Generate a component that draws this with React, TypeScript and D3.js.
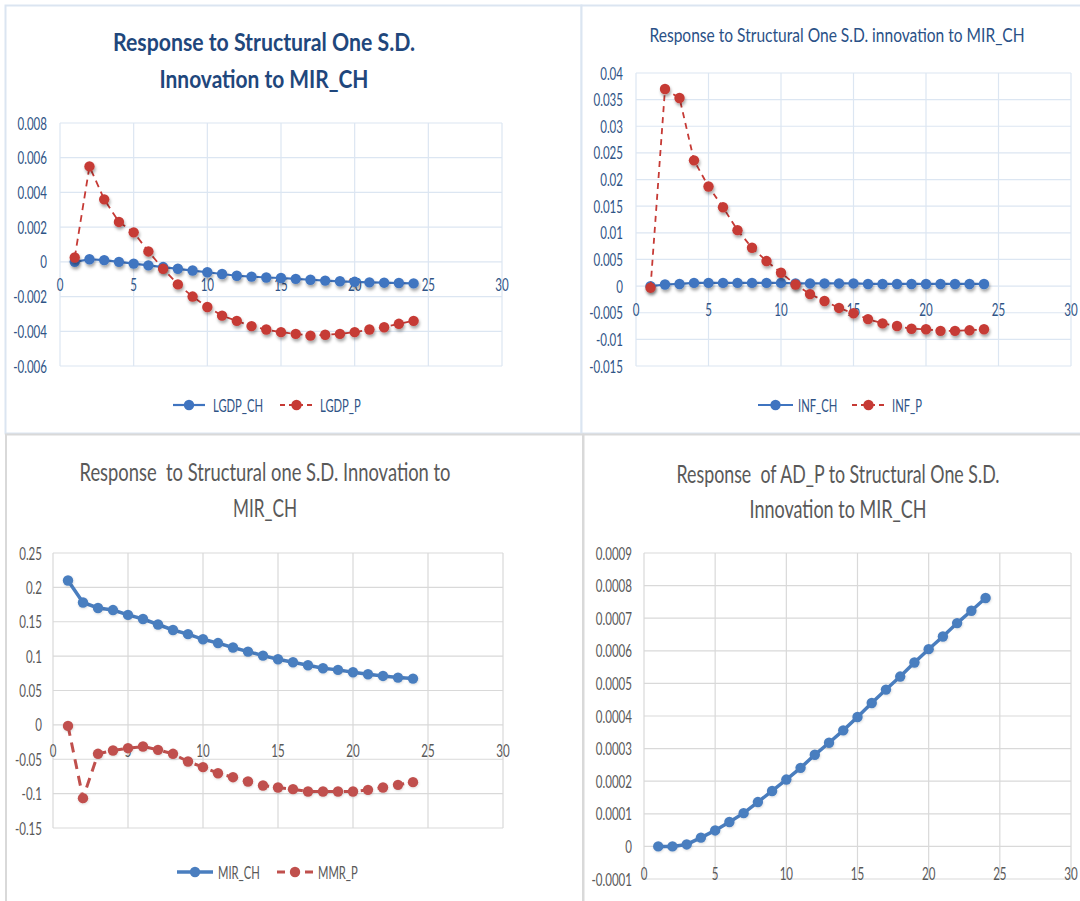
import { useLayoutEffect, useRef, useState } from 'react';
import * as d3 from 'd3';

// periods 1..24 shared by all four charts
const periods = [1, 2, 3, 4, 5, 6, 7, 8, 9, 10, 11, 12, 13, 14, 15, 16, 17, 18, 19, 20, 21, 22, 23, 24];
const xTicks = [0, 5, 10, 15, 20, 25, 30];

// top-left: output
const lgdpCH = [0.0, 0.00015, 0.0001, 0.0, -0.0001, -0.0002, -0.0003, -0.0004, -0.0005, -0.0006, -0.0007, -0.0008,
  -0.00085, -0.0009, -0.00093, -0.00098, -0.00103, -0.00108, -0.00112, -0.00115, -0.00118, -0.0012, -0.00122, -0.00124];
const lgdpP = [0.00025, 0.0055, 0.0036, 0.0023, 0.0017, 0.0006, -0.0004, -0.0013, -0.002, -0.0026, -0.0031, -0.0034,
  -0.0037, -0.0039, -0.00405, -0.00415, -0.00425, -0.0042, -0.00415, -0.00405, -0.0039, -0.00377, -0.00357, -0.0034];
const lgdpTicks = [-0.006, -0.004, -0.002, 0, 0.002, 0.004, 0.006, 0.008];

// top-right: inflation
const infCH = [0.0, 0.0003, 0.0004, 0.0006, 0.0006, 0.0006, 0.0006, 0.0006, 0.0006, 0.0006, 0.0005, 0.0005,
  0.0005, 0.0005, 0.0005, 0.0004, 0.0004, 0.0004, 0.0004, 0.0004, 0.0004, 0.0004, 0.0004, 0.0004];
const infP = [-0.0003, 0.037, 0.0353, 0.0236, 0.0187, 0.0148, 0.0105, 0.0072, 0.0047, 0.0025, 0.0003, -0.0015,
  -0.0028, -0.0041, -0.0051, -0.0062, -0.007, -0.0075, -0.008, -0.0081, -0.0084, -0.0084, -0.0083, -0.0081];
const infTicks = [-0.015, -0.01, -0.005, 0, 0.005, 0.01, 0.015, 0.02, 0.025, 0.03, 0.035, 0.04];

// bottom-left: interest rates
const mirCH = [0.21, 0.178, 0.17, 0.167, 0.16, 0.154, 0.146, 0.138, 0.132, 0.1245, 0.119, 0.1125,
  0.1066, 0.1008, 0.0955, 0.0911, 0.0867, 0.0824, 0.08, 0.0766, 0.0736, 0.0712, 0.0688, 0.0673];
const mmrP = [-0.0015, -0.1066, -0.0421, -0.0373, -0.0339, -0.0315, -0.0363, -0.0421, -0.0533, -0.0615, -0.0703, -0.0761,
  -0.0824, -0.0882, -0.0911, -0.0935, -0.0969, -0.0969, -0.0969, -0.0969, -0.0945, -0.0911, -0.0872, -0.0833];
const mirTicks = [-0.15, -0.1, -0.05, 0, 0.05, 0.1, 0.15, 0.2, 0.25];

// bottom-right: AD_P
const adP = [0.0, 0.0, 0.000006, 0.000027, 0.000049, 0.000075, 0.000102, 0.000136, 0.00017, 0.000205, 0.000241, 0.000281,
  0.000318, 0.000356, 0.000397, 0.00044, 0.000481, 0.000521, 0.000564, 0.000605, 0.000644, 0.000685, 0.000723, 0.000762];
const adTicks = [-0.0001, 0, 0.0001, 0.0002, 0.0003, 0.0004, 0.0005, 0.0006, 0.0007, 0.0008, 0.0009];

const FONT = 'Lato, "Open Sans", sans-serif';
const SX = 0.66; // horizontal squash, the source image is condensed

interface Series {
  name: string;
  values: number[];
  color: string;
  marker: string;
  width: number;
  dash?: string;
}

interface Panel {
  key: string;
  box: [number, number, number, number];
  border: string;
  grid: string;
  tickColor: string;
  x0: number;
  x1: number;
  yTop: number;
  yBot: number;
  yTicks: number[];
  xLabelY: number;
  yLabelGap: number;
  title: { text: string; x: number; y: number; len: number }[];
  titleSize: number;
  titleWeight: number;
  titleColor: string;
  series: Series[];
  legend?: { y: number; items: { l0: number; l1: number; tx: number }[] };
  shadow: string;
}

const topBlue = '#3f74c0';
const topRed = '#c63a35';
const botBlue = '#4a7ebf';
const botRed = '#c0504d';

const panels: Panel[] = [
  {
    key: 'p1', box: [5.5, 5.5, 576, 428], border: '#dbe5f1', grid: '#dce6f2', tickColor: '#2f5486',
    x0: 60, x1: 502, yTop: 123, yBot: 366, yTicks: lgdpTicks, xLabelY: 291, yLabelGap: 13,
    title: [
      { text: 'Response to Structural One S.D.', x: 264, y: 51, len: 302 },
      { text: 'Innovation to MIR_CH', x: 264, y: 88, len: 209 },
    ],
    titleSize: 25, titleWeight: 700, titleColor: '#1f477c',
    series: [
      { name: 'LGDP_CH', values: lgdpCH, color: topBlue, marker: topBlue, width: 2.2 },
      { name: 'LGDP_P', values: lgdpP, color: topRed, marker: topRed, width: 1.8, dash: '7,5' },
    ],
    legend: { y: 405, items: [{ l0: 173, l1: 205, tx: 213 }, { l0: 280, l1: 313, tx: 320 }] },
    shadow: 'url(#sh)',
  },
  {
    key: 'p2', box: [581.5, 5.5, 510, 428], border: '#dbe5f1', grid: '#dce6f2', tickColor: '#2f5486',
    x0: 636, x1: 1071, yTop: 73, yBot: 366, yTicks: infTicks, xLabelY: 316, yLabelGap: 13,
    title: [{ text: 'Response to Structural One S.D. innovation to MIR_CH', x: 837, y: 42, len: 375 }],
    titleSize: 20, titleWeight: 400, titleColor: '#2a5187',
    series: [
      { name: 'INF_CH', values: infCH, color: topBlue, marker: topBlue, width: 2.2 },
      { name: 'INF_P', values: infP, color: topRed, marker: topRed, width: 1.8, dash: '6,5' },
    ],
    legend: { y: 405, items: [{ l0: 758, l1: 793, tx: 798 }, { l0: 852, l1: 885, tx: 892 }] },
    shadow: 'url(#sh)',
  },
  {
    key: 'p3', box: [6, 434.5, 577, 480], border: '#d9d9d9', grid: '#d9d9d9', tickColor: '#595959',
    x0: 53, x1: 503, yTop: 553, yBot: 828, yTicks: mirTicks, xLabelY: 757, yLabelGap: 11,
    title: [
      { text: 'Response  to Structural one S.D. Innovation to', x: 265, y: 481, len: 371 },
      { text: 'MIR_CH', x: 265, y: 517, len: 64 },
    ],
    titleSize: 25, titleWeight: 400, titleColor: '#595959',
    series: [
      { name: 'MIR_CH', values: mirCH, color: botBlue, marker: botBlue, width: 3.5 },
      { name: 'MMR_P', values: mmrP, color: botRed, marker: botRed, width: 3, dash: '10,7' },
    ],
    legend: { y: 872, items: [{ l0: 177, l1: 213, tx: 218 }, { l0: 277, l1: 313, tx: 318 }] },
    shadow: 'url(#sh2)',
  },
  {
    key: 'p4', box: [583.5, 434.5, 510, 480], border: '#d9d9d9', grid: '#d9d9d9', tickColor: '#595959',
    x0: 644, x1: 1071, yTop: 553, yBot: 879, yTicks: adTicks, xLabelY: 880, yLabelGap: 12,
    title: [
      { text: 'Response  of AD_P to Structural One S.D.', x: 838, y: 483, len: 323 },
      { text: 'Innovation to MIR_CH', x: 838, y: 518, len: 177 },
    ],
    titleSize: 25, titleWeight: 400, titleColor: '#595959',
    series: [{ name: 'AD_P', values: adP, color: botBlue, marker: botBlue, width: 3.5 }],
    shadow: 'url(#sh2)',
  },
];

function SText({ x, y, size, fill, anchor = 'start', children }: {
  x: number; y: number; size: number; fill: string; anchor?: string; children: React.ReactNode;
}) {
  return (
    <text
      transform={`translate(${x},${y}) scale(${SX},1)`}
      fontSize={size}
      fill={fill}
      textAnchor={anchor as any}
      fontFamily={FONT}
    >
      {children}
    </text>
  );
}

// title line: measured after layout, then squeezed to the width seen in the source
function FitText({ x, y, len, size, weight, fill, text }: {
  x: number; y: number; len: number; size: number; weight: number; fill: string; text: string;
}) {
  const ref = useRef<SVGTextElement>(null);
  const [k, setK] = useState(0.7);
  useLayoutEffect(() => {
    if (!ref.current) return;
    const w = ref.current.getComputedTextLength();
    if (w > 0) setK(len / w);
  }, [text, len, size]);
  return (
    <text
      ref={ref}
      transform={`translate(${x},${y}) scale(${k},1)`}
      textAnchor="middle"
      fontSize={size}
      fontWeight={weight}
      fill={fill}
      fontFamily={FONT}
      style={{ whiteSpace: 'pre' }}
    >
      {text}
    </text>
  );
}

function ChartPanel({ p }: { p: Panel }) {
  const x = d3.scaleLinear().domain([0, 30]).range([p.x0, p.x1]);
  const y = d3.scaleLinear()
    .domain([p.yTicks[0], p.yTicks[p.yTicks.length - 1]])
    .range([p.yBot, p.yTop]);
  const line = d3.line<number>()
    .x((_, i) => x(periods[i]))
    .y((d) => y(d));

  return (
    <g>
      <rect x={p.box[0]} y={p.box[1]} width={p.box[2]} height={p.box[3]} fill="#fff" stroke={p.border} strokeWidth={2} />
      {p.title.map((t) => (
        <FitText key={t.text} x={t.x} y={t.y} len={t.len} size={p.titleSize} weight={p.titleWeight} fill={p.titleColor} text={t.text} />
      ))}
      {/* gridlines */}
      {p.yTicks.map((v) => (
        <line key={'h' + v} x1={p.x0} x2={p.x1} y1={y(v)} y2={y(v)} stroke={p.grid} strokeWidth={1.2} />
      ))}
      {xTicks.map((v) => (
        <line key={'v' + v} x1={x(v)} x2={x(v)} y1={p.yTop} y2={p.yBot} stroke={p.grid} strokeWidth={1.2} />
      ))}
      {/* tick labels */}
      {p.yTicks.map((v) => (
        <SText key={'yl' + v} x={p.x0 - p.yLabelGap} y={y(v) + 6.5} size={17.5} fill={p.tickColor} anchor="end">
          {String(v)}
        </SText>
      ))}
      {xTicks.map((v) => (
        <SText key={'xl' + v} x={x(v)} y={p.xLabelY} size={17.5} fill={p.tickColor} anchor="middle">
          {String(v)}
        </SText>
      ))}
      {/* series */}
      {p.series.map((s) => (
        <g key={s.name}>
          <path d={line(s.values) || ''} fill="none" stroke={s.color} strokeWidth={s.width} strokeDasharray={s.dash} />
          <g filter={p.shadow}>
            {s.values.map((v, i) => (
              <circle key={i} cx={x(periods[i])} cy={y(v)} r={5.2} fill={s.marker} />
            ))}
          </g>
        </g>
      ))}
      {/* legend */}
      {p.legend &&
        p.series.map((s, i) => {
          const it = p.legend!.items[i];
          const cy = p.legend!.y;
          return (
            <g key={'lg' + s.name}>
              <line x1={it.l0} x2={it.l1} y1={cy} y2={cy} stroke={s.color} strokeWidth={s.width} strokeDasharray={s.dash ? (s.width > 2.5 ? '8,6' : '5,4') : undefined} />
              <circle cx={(it.l0 + it.l1) / 2} cy={cy} r={5.2} fill={s.marker} />
              <SText x={it.tx} y={cy + 6.5} size={17} fill={p.tickColor}>
                {s.name}
              </SText>
            </g>
          );
        })}
    </g>
  );
}

export default function App() {
  return (
    <svg
      width={1080}
      height={901}
      viewBox="0 0 1080 901"
      style={{ position: 'absolute', left: 0, top: 0, display: 'block', background: '#fff' }}
    >
      <defs>
        <filter id="sh" x="-50%" y="-50%" width="200%" height="220%">
          <feDropShadow dx={1} dy={2.5} stdDeviation={1.4} floodColor="#000" floodOpacity={0.35} />
        </filter>
        <filter id="sh2" x="-50%" y="-50%" width="200%" height="220%">
          <feDropShadow dx={0.5} dy={1} stdDeviation={0.8} floodColor="#000" floodOpacity={0.15} />
        </filter>
      </defs>
      <rect x={0} y={0} width={1080} height={901} fill="#fff" />
      {panels.map((p) => (
        <ChartPanel key={p.key} p={p} />
      ))}
    </svg>
  );
}
